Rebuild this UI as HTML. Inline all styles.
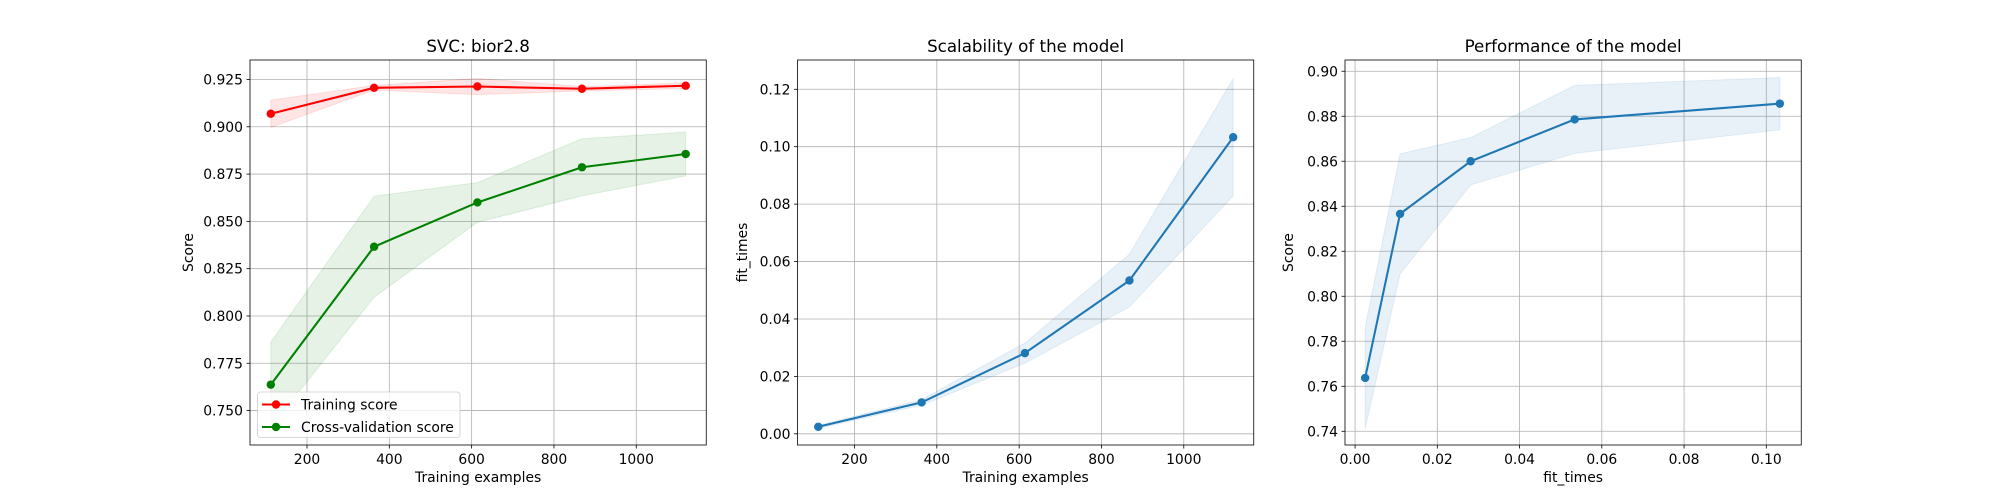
<!DOCTYPE html>
<html><head><meta charset="utf-8"><style>
body{margin:0;background:#fff;}
svg{display:block;font-family:"DejaVu Sans","Liberation Sans",sans-serif;}
</style></head><body>
<svg id="fig" width="2000" height="500" viewBox="0 0 2000 500" xmlns="http://www.w3.org/2000/svg"></svg>
<script>
const trainSizes = [112, 363, 614, 868, 1120];
const trainMean = [0.9069, 0.9206, 0.9213, 0.9201, 0.9217];
const trainStd = [0.0072, 0.0012, 0.0043, 0.0012, 0.0015];
const cvMean = [0.7637, 0.8366, 0.8600, 0.8786, 0.8856];
const cvStd = [0.0225, 0.0267, 0.0105, 0.0151, 0.0116];
const fitMean = [0.00245, 0.01094, 0.0281, 0.0534, 0.1033];
const fitStd = [0.0005, 0.0010, 0.0035, 0.0092, 0.0204];
const ticks1X = [200, 400, 600, 800, 1000];
const ticks1Y = [0.750, 0.775, 0.800, 0.825, 0.850, 0.875, 0.900, 0.925];
const ticks2Y = [0.00, 0.02, 0.04, 0.06, 0.08, 0.10, 0.12];
const ticks3X = [0.00, 0.02, 0.04, 0.06, 0.08, 0.10];
const ticks3Y = [0.74, 0.76, 0.78, 0.80, 0.82, 0.84, 0.86, 0.88, 0.90];

const NS = "http://www.w3.org/2000/svg";
const fig = document.getElementById('fig');
function mk(tag, attrs, parent, text){
  const e = document.createElementNS(NS, tag);
  for (const k in attrs) e.setAttribute(k, attrs[k]);
  if (text !== undefined) e.textContent = text;
  (parent || fig).appendChild(e);
  return e;
}
const TOP = 60, BOT = 445;
function axes(name, left, right, xmin, xmax, ymin, ymax){
  const g = mk('g', {});
  
  
  return {g, left, right,
    sx: v => left + (v - xmin) / (xmax - xmin) * (right - left),
    sy: v => BOT - (v - ymin) / (ymax - ymin) * (BOT - TOP)};
}
function drawAxes(ax, xt, yt, xfmt, yfmt, title, xlabel, ylabel, ylabelX){
  const g = ax.g;
  xt.forEach(v => {
    const x = ax.sx(v);
    const l = mk('line', {x1:x, x2:x, y1:TOP, y2:BOT, stroke:'#b0b0b0', 'stroke-width':0.8}, g);
    
    
    mk('line', {x1:x, x2:x, y1:BOT, y2:BOT+3.5, stroke:'#000', 'stroke-width':0.8}, g);
    const t = mk('text', {x:x, y:BOT+19, 'font-size':13.9, 'text-anchor':'middle'}, g, xfmt(v));
    
    
  });
  yt.forEach(v => {
    const y = ax.sy(v);
    const l = mk('line', {x1:ax.left, x2:ax.right, y1:y, y2:y, stroke:'#b0b0b0', 'stroke-width':0.8}, g);
    
    
    mk('line', {x1:ax.left-3.5, x2:ax.left, y1:y, y2:y, stroke:'#000', 'stroke-width':0.8}, g);
    const t = mk('text', {x:ax.left-7, y:y+5, 'font-size':13.9, 'text-anchor':'end'}, g, yfmt(v));
    
    
  });
  const tt = mk('text', {x:(ax.left+ax.right)/2, y:TOP-8, 'font-size':16.7, 'text-anchor':'middle'}, g, title);
  
  
  const xl = mk('text', {x:(ax.left+ax.right)/2, y:BOT+37, 'font-size':13.9, 'text-anchor':'middle'}, g, xlabel);
  
  
  const cy = (TOP+BOT)/2;
  const yl = mk('text', {x:ylabelX, y:cy, 'font-size':13.9, 'text-anchor':'middle', transform:`rotate(-90 ${ylabelX} ${cy})`}, g, ylabel);
  
  
}
function band(ax, xs, m, s, color, name){
  let pts = xs.map((x,i)=>`${ax.sx(x)},${ax.sy(m[i]+s[i])}`);
  pts = pts.concat(xs.map((x,i)=>`${ax.sx(x)},${ax.sy(m[i]-s[i])}`).reverse());
  const p = mk('polygon', {points:pts.join(' '), fill:color, 'fill-opacity':0.1, stroke:color, 'stroke-opacity':0.1}, ax.g);
  
  
}
function series(ax, xs, ys, color, name){
  const p = mk('polyline', {points:xs.map((x,i)=>`${ax.sx(x)},${ax.sy(ys[i])}`).join(' '), fill:'none', stroke:color, 'stroke-width':2.08}, ax.g);
  
  
  xs.forEach((x,i)=>{
    const c = mk('circle', {cx:ax.sx(x), cy:ax.sy(ys[i]), r:4.2, fill:color}, ax.g);
    
    
  });
}
function frame(ax){
  const r = mk('rect', {x:ax.left, y:TOP, width:ax.right-ax.left, height:BOT-TOP, fill:'none', stroke:'#000', 'stroke-width':0.8}, ax.g);
  
  
}
const f3 = v => v.toFixed(3), f2 = v => v.toFixed(2), f0 = v => String(v);

// Chart 1
const a1 = axes('learning-curve-chart', 250, 706.25, 61.5, 1170, 0.7318, 0.9353);
drawAxes(a1, ticks1X, ticks1Y, f0, f3, 'SVC: bior2.8', 'Training examples', 'Score', 193);
band(a1, trainSizes, trainMean, trainStd, '#ff0000', 'training-score-band');
band(a1, trainSizes, cvMean, cvStd, '#008000', 'cv-score-band');
series(a1, trainSizes, trainMean, '#ff0000', 'training-score');
series(a1, trainSizes, cvMean, '#008000', 'cv-score');
frame(a1);
// legend
const lg = mk('g', {});


mk('rect', {x:257.5, y:392, width:202.5, height:45.5, rx:3, fill:'#fff', 'fill-opacity':0.8, stroke:'#cccccc', 'stroke-width':0.8}, lg);
[['Training score','#ff0000',404.5],['Cross-validation score','#008000',427]].forEach(([lab,col,y])=>{
  const e = mk('g', {}, lg);
  
  
  mk('line', {x1:262, x2:290, y1:y, y2:y, stroke:col, 'stroke-width':2.08}, e);
  mk('circle', {cx:276, cy:y, r:4.2, fill:col}, e);
  mk('text', {x:301, y:y+5, 'font-size':13.9}, e, lab);
});

// Chart 2
const a2 = axes('scalability-chart', 797.5, 1253.75, 61.5, 1170, -0.0039, 0.1302);
drawAxes(a2, ticks1X, ticks2Y, f0, f2, 'Scalability of the model', 'Training examples', 'fit_times', 747);
band(a2, trainSizes, fitMean, fitStd, '#1f77b4', 'fit-times-band');
series(a2, trainSizes, fitMean, '#1f77b4', 'fit-times');
frame(a2);

// Chart 3
const a3 = axes('performance-chart', 1345, 1801.25, -0.00245, 0.1085, 0.7339, 0.9050);
drawAxes(a3, ticks3X, ticks3Y, f2, f2, 'Performance of the model', 'fit_times', 'Score', 1293);
band(a3, fitMean, cvMean, cvStd, '#1f77b4', 'performance-band');
series(a3, fitMean, cvMean, '#1f77b4', 'performance');
frame(a3);
</script>
</body></html>
